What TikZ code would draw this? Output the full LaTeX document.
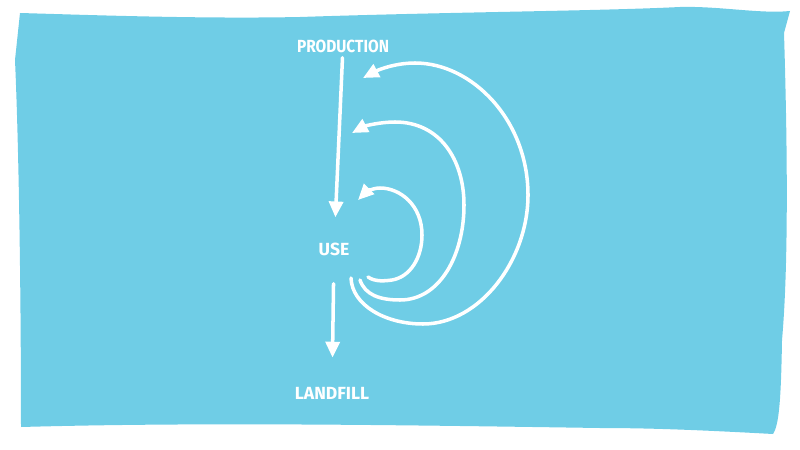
\documentclass[tikz,border=0pt]{standalone}
\usepackage{fontspec}
\setmainfont{Fira Sans}
\usetikzlibrary{arrows.meta}
\definecolor{skyBlue}{RGB}{111,205,230}

\begin{document}
\begin{tikzpicture}[x = 0.02cm, y = -0.02cm]
	\tikzstyle{labelStyle} = [text = white, font = \bfseries\fontsize{10}{12}\selectfont, inner sep = 0.1cm]
	\tikzstyle{flowStyle} = [draw = white, line width = 2pt, line cap = round, -{Triangle[length = 9pt, width = 8pt]}]
	\useasboundingbox (0,0) rectangle (800,449);
	\fill[skyBlue] (20,13) .. controls (90,15) and (200,19) .. (300,17) .. controls (450,12) and (600,11) .. (680,7) .. controls (720,6) and (760,14) .. (790,11) -- (784,33) .. controls (786,100) and (790,250) .. (782,340) .. controls (781,400) and (779,425) .. (773,434) .. controls (700,430) and (650,428) .. (600,428) .. controls (400,425) and (200,422) .. (21,427) .. controls (21,300) and (19,150) .. (15,60) -- cycle;
	\node[labelStyle, xscale = 0.88] (prod) at (343,46) {PRODUCTION};
	\node[labelStyle] (use) at (334,249) {USE};
	\node[labelStyle] (landfill) at (332,393) {LANDFILL};
	\coordinate (outerFrom) at (351,278);
	\coordinate (outerTo) at (363,78);
	\coordinate (middleFrom) at (360,280);
	\coordinate (middleTo) at (352,133);
	\coordinate (innerFrom) at (368,277);
	\coordinate (innerTo) at (358,200);
	\draw[flowStyle, shorten > = 0.4cm] (prod) -- (use);
	\draw[flowStyle, shorten < = 0.46cm, shorten > = 0.48cm] (use) -- (landfill);
	\draw[flowStyle] (outerFrom) .. controls (352,305) and (385,324) .. (423,324) .. controls (480,324) and (528,260) .. (528,195) .. controls (528,120) and (472,63) .. (415,63) .. controls (395,63) and (378,70) .. (outerTo);
	\draw[flowStyle] (middleFrom) .. controls (365,295) and (380,300) .. (400,300) .. controls (440,300) and (464,255) .. (464,205) .. controls (464,160) and (440,122) .. (395,122) .. controls (380,122) and (365,126) .. (middleTo);
	\draw[flowStyle] (innerFrom) .. controls (375,282) and (385,281) .. (392,280) .. controls (410,277) and (422,258) .. (422,235) .. controls (422,205) and (400,188) .. (380,188) .. controls (372,188) and (365,193) .. (innerTo);
\end{tikzpicture}
\end{document}
